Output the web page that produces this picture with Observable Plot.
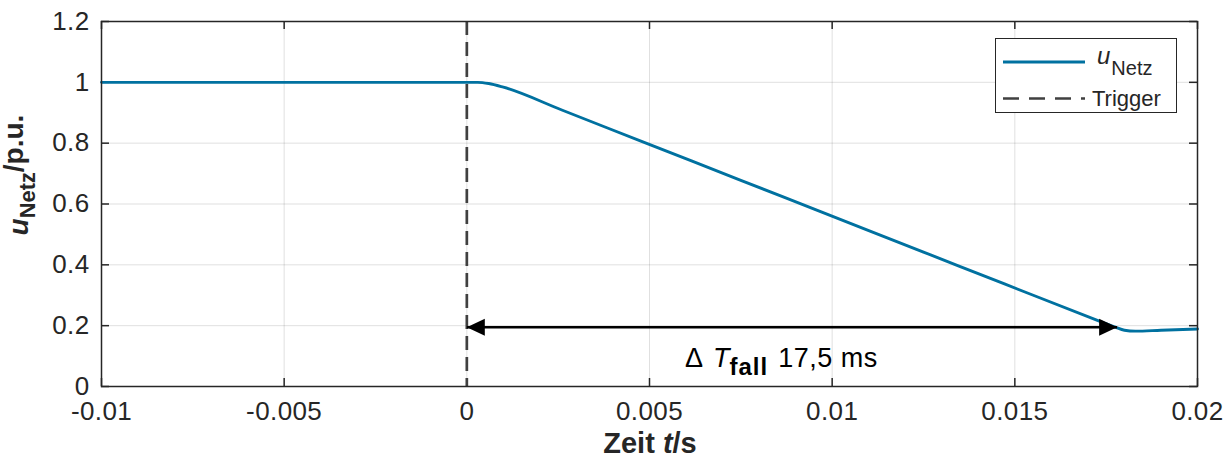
<!DOCTYPE html>
<html><head><meta charset="utf-8">
<script src="https://cdn.jsdelivr.net/npm/d3@7"></script>
<script src="https://cdn.jsdelivr.net/npm/@observablehq/plot@0.6"></script>
<style>body{margin:0;background:#fff}</style>
</head><body><div id="chart"></div>
<script>
// ---- data ----
const time  = [-0.01, -0.008, -0.006, -0.004, -0.002, 0, 0.0003, 0.0006, 0.001, 0.0026, 0.0048, 0.0075, 0.0097, 0.0125, 0.0147, 0.0174, 0.01775, 0.0180, 0.0183, 0.019, 0.02];
const uNetz = [1, 1, 1, 1, 1, 1, 1, 0.996, 0.984, 0.909, 0.805, 0.678, 0.574, 0.442, 0.338, 0.211, 0.195, 0.185, 0.182, 0.185, 0.189];
const triggerTime = [0];
const fallStart = [0];
const fallEnd = [0.0178];
const fallLevel = [0.195];
const fallText = ["Δ", "T", "fall", "17,5 ms"];
const xTicks = [-0.01, -0.005, 0, 0.005, 0.01, 0.015, 0.02];
const xTickLabels = ["-0.01", "-0.005", "0", "0.005", "0.01", "0.015", "0.02"];
const yTicks = [0, 0.2, 0.4, 0.6, 0.8, 1, 1.2];
const yTickLabels = ["0", "0.2", "0.4", "0.6", "0.8", "1", "1.2"];
const legendLabels = [["u", "Netz"], ["Trigger"]];

// ---- layout ----
const W = 1230, H = 457;
const mL = 101, mR = 33, mT = 21, mB = 71;
const plotH = H - mT - mB, plotW = W - mL - mR;
const font = "'Liberation Sans', Arial, Helvetica, sans-serif";
const ink = "#262626";
const blue = "#0071a0";
const tickLen = 8;

const data = time.map((t, i) => ({t, u: uNetz[i]}));
const arrowData = fallStart.map((s, i) => ({x1: s, x2: fallEnd[i], y: fallLevel[i]}));
const heads = [
  {x: fallStart[0], y: fallLevel[0], rot: -90},
  {x: fallEnd[0], y: fallLevel[0], rot: 90}
];
const triShape = {draw(ctx, l, r) { ctx.moveTo(0, -l); ctx.lineTo(-r, 0); ctx.lineTo(r, 0); ctx.closePath(); }};
const fmtX = d => xTickLabels[xTicks.indexOf(d)];
const fmtY = d => yTickLabels[yTicks.indexOf(d)];
const annId = "__fall_annotation__";

const svg = Plot.plot({
  width: W, height: H,
  marginLeft: mL, marginRight: mR, marginTop: mT, marginBottom: mB,
  style: {fontFamily: font, fontSize: "26px", color: ink, background: "#fff", overflow: "visible"},
  x: {domain: [-0.01, 0.02]},
  y: {domain: [0, 1.2]},
  marks: [
    Plot.gridX(xTicks, {stroke: ink, strokeOpacity: 0.14, strokeWidth: 1}),
    Plot.gridY(yTicks, {stroke: ink, strokeOpacity: 0.14, strokeWidth: 1}),
    Plot.axisX(xTicks, {anchor: "bottom", tickSize: 0, tickPadding: 15, tickFormat: fmtX, fontSize: 26, label: null, fill: ink}),
    Plot.axisY(yTicks, {anchor: "left", tickSize: 0, tickPadding: 12, tickFormat: fmtY, fontSize: 26, label: null, fill: ink}),
    // inward ticks on all four sides
    Plot.ruleX(xTicks, {x: d => d, insetTop: plotH - tickLen, stroke: ink, strokeWidth: 1.5}),
    Plot.ruleX(xTicks, {x: d => d, insetBottom: plotH - tickLen, stroke: ink, strokeWidth: 1.5}),
    Plot.ruleY(yTicks, {y: d => d, insetRight: plotW - tickLen, stroke: ink, strokeWidth: 1.5}),
    Plot.ruleY(yTicks, {y: d => d, insetLeft: plotW - tickLen, stroke: ink, strokeWidth: 1.5}),
    Plot.line(data, {x: "t", y: "u", stroke: blue, strokeWidth: 2.9, curve: "monotone-x"}),
    Plot.ruleX(triggerTime, {x: d => d, stroke: "#404040", strokeWidth: 2.7, strokeDasharray: "14,7"}),
    Plot.link(arrowData, {x1: "x1", x2: "x2", y1: "y", y2: "y", stroke: "black", strokeWidth: 2.6}),
    Plot.vector(heads, {x: "x", y: "y", rotate: "rot", length: 18, r: 8.5, anchor: "end", shape: triShape, fill: "black", stroke: "none"}),
    Plot.text(arrowData, {x: d => (d.x1 + d.x2) / 2, y: "y", text: () => annId, fontSize: 26, textAnchor: "start", lineAnchor: "middle", dy: 31, dx: -107, fill: "black"}),
    Plot.frame({stroke: ink, strokeWidth: 1.5})
  ]
});
document.getElementById("chart").appendChild(svg);

const S = d3.select(svg);
// tick label spacing
S.selectAll("g[aria-label='x-axis tick label'] text, g[aria-label='y-axis tick label'] text").attr("letter-spacing", "0.4px");

// rich annotation
S.selectAll("text").filter(function() { return this.textContent === annId; }).each(function() {
  const t = d3.select(this);
  t.text(null);
  t.append("tspan").attr("font-size", 27).text(fallText[0]);
  t.append("tspan").attr("dx", 10).attr("font-style", "italic").attr("font-size", 27).text(fallText[1]);
  t.append("tspan").attr("dx", 0).attr("dy", 8).attr("font-weight", "bold").attr("font-size", 24).attr("letter-spacing", "1px").text(fallText[2]);
  t.append("tspan").attr("dx", 10).attr("dy", -8).attr("font-size", 27).attr("letter-spacing", "0.5px").text(fallText[3]);
});

// axis labels
const yl = S.append("text")
  .attr("transform", `translate(28,${175}) rotate(-90)`)
  .attr("text-anchor", "middle")
  .attr("font-family", font).attr("font-weight", "bold").attr("font-size", 28).attr("fill", ink);
yl.append("tspan").attr("font-style", "italic").text("u");
yl.append("tspan").attr("font-size", "0.78em").attr("dy", "0.3em").text("Netz");
yl.append("tspan").attr("dy", "-0.4em").text("/p.u.");

const xl = S.append("text")
  .attr("x", 650).attr("y", 453)
  .attr("text-anchor", "middle")
  .attr("font-family", font).attr("font-weight", "bold").attr("font-size", 29).attr("fill", ink);
xl.append("tspan").text("Zeit ");
xl.append("tspan").attr("font-style", "italic").text("t");
xl.append("tspan").text("/s");

// legend
const lg = S.append("g").attr("font-family", font).attr("fill", ink).attr("text-anchor", "start");
lg.append("rect").attr("x", 995.5).attr("y", 38.5).attr("width", 181).attr("height", 74)
  .attr("fill", "#fff").attr("stroke", ink).attr("stroke-width", 1);
lg.append("line").attr("x1", 1003).attr("x2", 1085).attr("y1", 62).attr("y2", 62)
  .attr("stroke", blue).attr("stroke-width", 2.9);
const l1 = lg.append("text").attr("x", 1097).attr("y", 64).attr("font-size", 24).attr("text-anchor", "start");
l1.append("tspan").attr("font-style", "italic").text(legendLabels[0][0]);
l1.append("tspan").attr("font-size", 20).attr("dx", 1).attr("dy", 11).text(legendLabels[0][1]);
lg.append("line").attr("x1", 1003).attr("x2", 1085).attr("y1", 98.5).attr("y2", 98.5)
  .attr("stroke", "#404040").attr("stroke-width", 2.7).attr("stroke-dasharray", "16,10");
lg.append("text").attr("x", 1092).attr("y", 106).attr("font-size", 22).attr("text-anchor", "start").text(legendLabels[1][0]);
</script>
</body></html>
